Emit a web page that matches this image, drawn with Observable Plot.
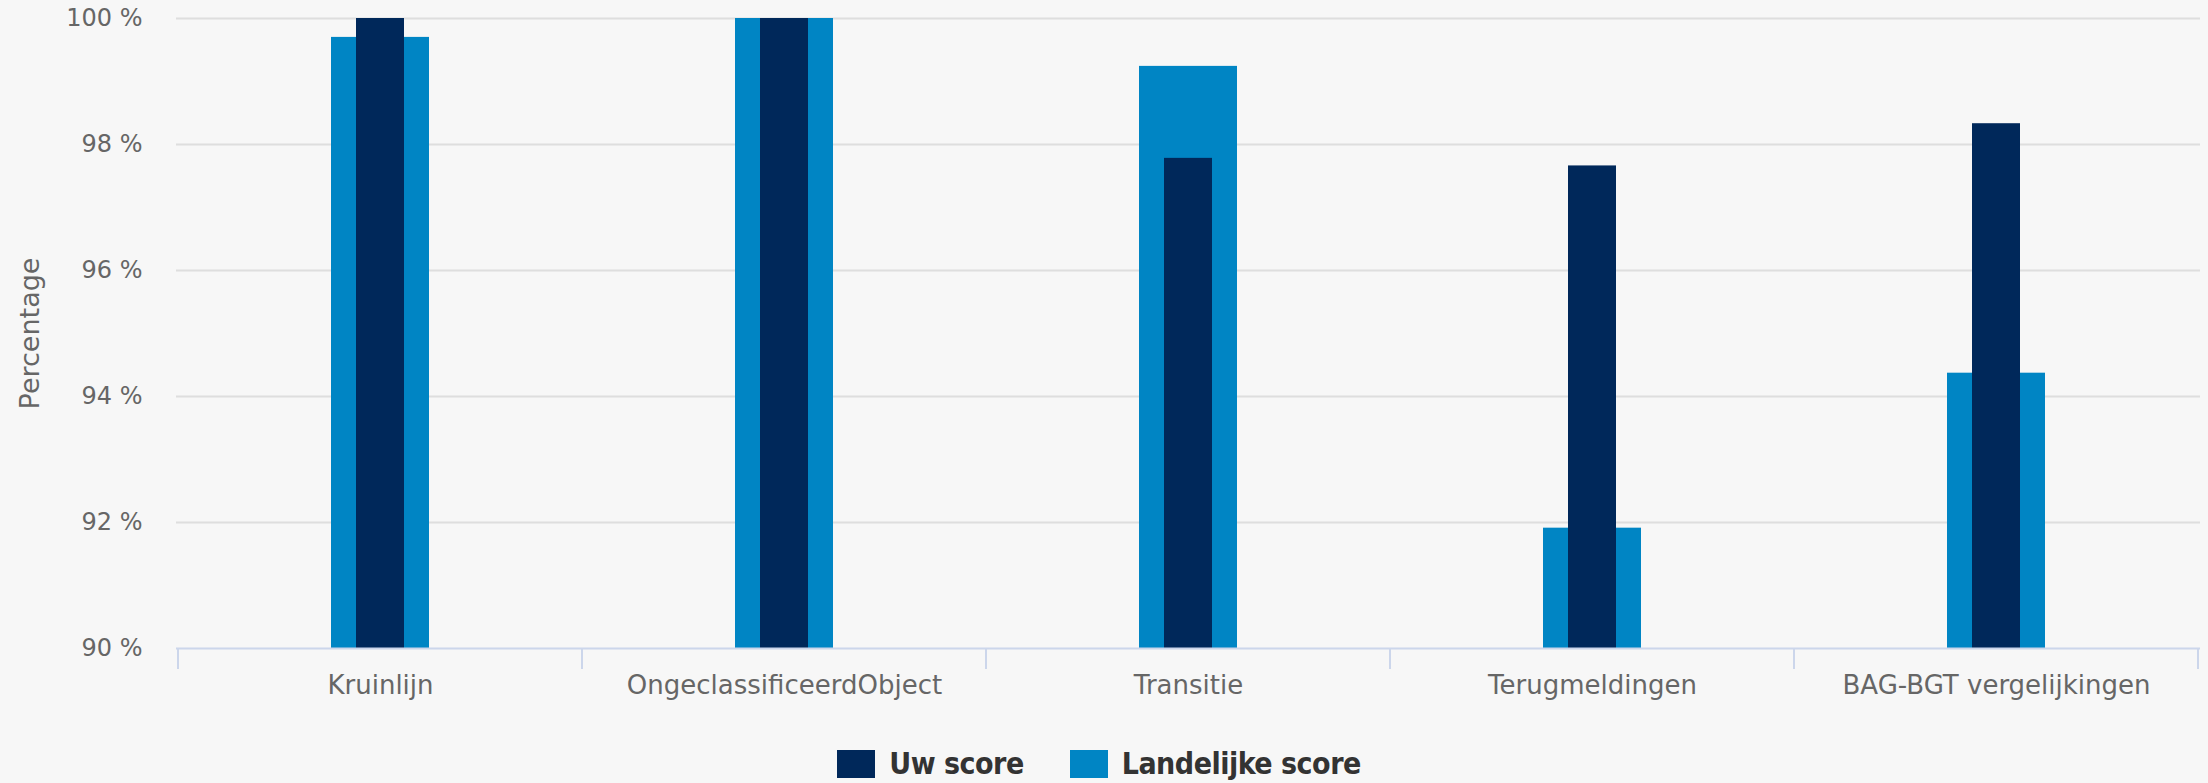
<!DOCTYPE html>
<html>
<head>
<meta charset="utf-8">
<script src="https://cdn.jsdelivr.net/npm/d3@7"></script>
<script src="https://cdn.jsdelivr.net/npm/@observablehq/plot@0.6"></script>
<style>
  html, body { margin: 0; padding: 0; background: #f7f7f7; }
  #chart svg { display: block; background: #f7f7f7; }
  #legend {
    width: 2208px; height: 63px; box-sizing: border-box;
    padding-top: 24px; padding-right: 10px;
    display: flex; justify-content: center; align-items: center;
    font-family: "Liberation Sans Narrow", "DejaVu Sans Condensed", "Arial Narrow", sans-serif;
    font-weight: bold; font-size: 30px; letter-spacing: -0.5px; color: #333333;
  }
  .item { display: flex; align-items: center; margin: 0 23px; }
  .sw { width: 38px; height: 28px; margin-right: 14px; }
</style>
</head>
<body>
<div id="chart"></div>
<div id="legend"></div>
<script>
const categories = ["Kruinlijn", "OngeclassificeerdObject", "Transitie", "Terugmeldingen", "BAG-BGT vergelijkingen"];
const uwScore = [100, 100, 97.78, 97.66, 98.33];
const landelijkeScore = [99.70, 100, 99.24, 91.91, 94.37];
const yTicks = [90, 92, 94, 96, 98, 100];
const seriesNames = ["Uw score", "Landelijke score"];
const seriesColors = ["#00285a", "#0085c4"];

const uwData = categories.map((c, i) => ({category: c, value: uwScore[i]}));
const landData = categories.map((c, i) => ({category: c, value: landelijkeScore[i]}));

function boundaryTicks(index, scales, values, dimensions) {
  const x = scales.x, y = scales.y;
  const bw = typeof x.bandwidth === "function" ? x.bandwidth() : x.bandwidth;
  const y0 = y(90);
  const g = d3.create("svg:g");
  const xs = categories.map(c => x(c));
  xs.push(x(categories[categories.length - 1]) + bw);
  for (const xv of xs) {
    g.append("line").attr("x1", xv).attr("x2", xv).attr("y1", y0).attr("y2", y0 + 21)
      .attr("stroke", "#ccd6eb").attr("stroke-width", 2);
  }
  return g.node();
}

const chart = Plot.plot({
  width: 2208,
  height: 720,
  marginTop: 18,
  marginBottom: 72,
  marginLeft: 176,
  marginRight: 8,
  style: {background: "#f7f7f7", color: "#666666", fontFamily: "'DejaVu Sans', sans-serif"},
  x: {domain: categories, padding: 0, label: null},
  y: {domain: [90, 100], label: null},
  marks: [
    Plot.ruleY(yTicks.filter(d => d > 90), {stroke: "#dedede", strokeWidth: 2}),
    Plot.axisY({ticks: yTicks, tickFormat: d => d + " %", tickSize: 0, tickPadding: 34, fontSize: 24, label: null, fill: "#666666"}),
    Plot.axisX({tickSize: 0, tickPadding: 27, fontSize: 26, label: null, fill: "#666666"}),
    Plot.text(["Percentage"], {frameAnchor: "left", textAnchor: "middle", rotate: -90, dx: -146, fontSize: 27, fill: "#666666"}),
    Plot.barY(landData, {x: "category", y1: () => 90, y2: "value", fill: seriesColors[1], insetLeft: 153, insetRight: 153}),
    Plot.barY(uwData, {x: "category", y1: () => 90, y2: "value", fill: seriesColors[0], insetLeft: 178, insetRight: 178}),
    Plot.ruleY([90], {stroke: "#ccd6eb", strokeWidth: 2}),
    boundaryTicks
  ]
});
document.getElementById("chart").appendChild(chart);

const legend = document.getElementById("legend");
seriesNames.forEach((n, i) => {
  const item = document.createElement("div");
  item.className = "item";
  const sw = document.createElement("div");
  sw.className = "sw";
  sw.style.background = seriesColors[i];
  const t = document.createElement("span");
  t.textContent = n;
  item.appendChild(sw);
  item.appendChild(t);
  legend.appendChild(item);
});
</script>
</body>
</html>
